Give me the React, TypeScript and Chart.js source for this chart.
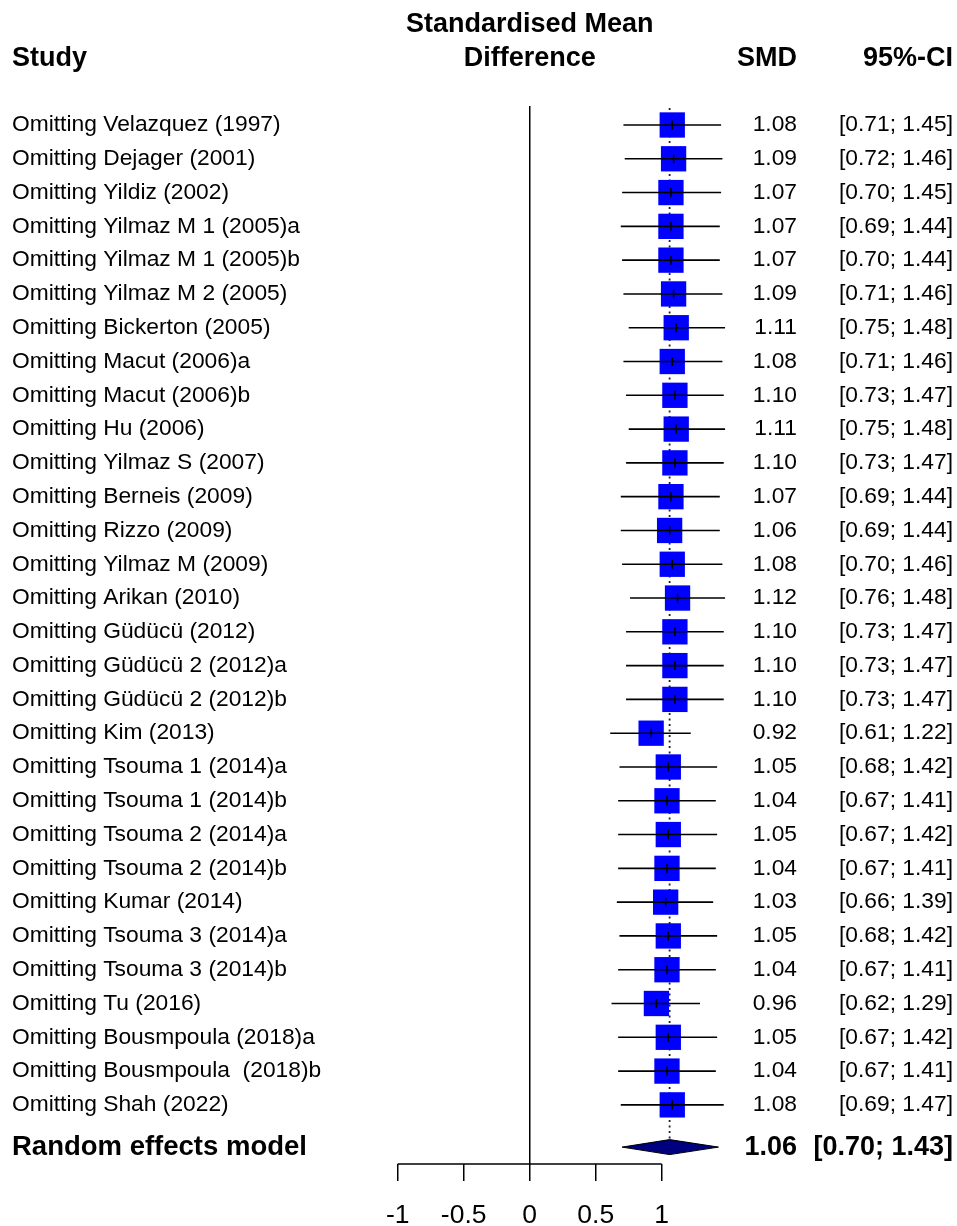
import React, { useEffect, useRef } from "react";
import { Chart, registerables } from "chart.js";

Chart.register(...registerables);

// ---------- data ----------
const STUDIES = [
  "Velazquez (1997)",
  "Dejager (2001)",
  "Yildiz (2002)",
  "Yilmaz M 1 (2005)a",
  "Yilmaz M 1 (2005)b",
  "Yilmaz M 2 (2005)",
  "Bickerton (2005)",
  "Macut (2006)a",
  "Macut (2006)b",
  "Hu (2006)",
  "Yilmaz S (2007)",
  "Berneis (2009)",
  "Rizzo (2009)",
  "Yilmaz M (2009)",
  "Arikan (2010)",
  "Güdücü (2012)",
  "Güdücü 2 (2012)a",
  "Güdücü 2 (2012)b",
  "Kim (2013)",
  "Tsouma 1 (2014)a",
  "Tsouma 1 (2014)b",
  "Tsouma 2 (2014)a",
  "Tsouma 2 (2014)b",
  "Kumar (2014)",
  "Tsouma 3 (2014)a",
  "Tsouma 3 (2014)b",
  "Tu (2016)",
  "Bousmpoula (2018)a",
  "Bousmpoula  (2018)b",
  "Shah (2022)",
];
const SMD = [
  1.08, 1.09, 1.07, 1.07, 1.07, 1.09, 1.11, 1.08, 1.10, 1.11, 1.10, 1.07, 1.06, 1.08, 1.12,
  1.10, 1.10, 1.10, 0.92, 1.05, 1.04, 1.05, 1.04, 1.03, 1.05, 1.04, 0.96, 1.05, 1.04, 1.08,
];
const CI_LOWER = [
  0.71, 0.72, 0.70, 0.69, 0.70, 0.71, 0.75, 0.71, 0.73, 0.75, 0.73, 0.69, 0.69, 0.70, 0.76,
  0.73, 0.73, 0.73, 0.61, 0.68, 0.67, 0.67, 0.67, 0.66, 0.68, 0.67, 0.62, 0.67, 0.67, 0.69,
];
const CI_UPPER = [
  1.45, 1.46, 1.45, 1.44, 1.44, 1.46, 1.48, 1.46, 1.47, 1.48, 1.47, 1.44, 1.44, 1.46, 1.48,
  1.47, 1.47, 1.47, 1.22, 1.42, 1.41, 1.42, 1.41, 1.39, 1.42, 1.41, 1.29, 1.42, 1.41, 1.47,
];
const RE_LABEL = "Random effects model";
const RE_SMD = 1.06;
const RE_LOWER = 0.7;
const RE_UPPER = 1.43;
const X_TICKS = [-1, -0.5, 0, 0.5, 1];
const STUDY_PREFIX = "Omitting ";
const HEAD_STUDY = "Study";
const HEAD_EFFECT = ["Standardised Mean", "Difference"];
const HEAD_SMD = "SMD";
const HEAD_CI = "95%-CI";

// ---------- layout / style ----------
const W = 957;
const H = 1226;
const PAD_LEFT = 397.7;
const PAD_RIGHT = 40;
const PX_PER_UNIT = 132;
const X_MIN = X_TICKS[0];
const X_MAX = X_MIN + (W - PAD_LEFT - PAD_RIGHT) / PX_PER_UNIT;
const PAD_TOP = 106;
const AXIS_H = 62;
const Y_MIN = -0.562;
const Y_MAX = 30.75;
const RE_ROW = 30.25;
const DIAMOND_HALF = 0.222;
const FONT = '"Liberation Sans", Arial, Helvetica, sans-serif';
const FS = 22.8;
const FS_BOLD = 27;
const FS_RE_LABEL = 27.5;
const COL_STUDY_X = 12;
const COL_SMD_RIGHT = 797;
const COL_CI_RIGHT = 953;
const HEAD_Y1 = 25;
const HEAD_Y2 = 59;

const fmt = (v: number) => v.toFixed(2);

const textPlugin = {
  id: "forestText",
  afterDraw(chart: any) {
    const ctx = chart.ctx as CanvasRenderingContext2D;
    const ys = chart.scales.y;
    const xs = chart.scales.x;
    ctx.save();
    ctx.fillStyle = "#000";
    ctx.textBaseline = "middle";

    // headers
    ctx.font = `bold ${FS_BOLD}px ${FONT}`;
    ctx.textAlign = "left";
    ctx.fillText(HEAD_STUDY, COL_STUDY_X, HEAD_Y2);
    ctx.textAlign = "center";
    const cx = xs.getPixelForValue(0);
    ctx.fillText(HEAD_EFFECT[0], cx, HEAD_Y1);
    ctx.fillText(HEAD_EFFECT[1], cx, HEAD_Y2);
    ctx.textAlign = "right";
    ctx.fillText(HEAD_SMD, COL_SMD_RIGHT, HEAD_Y2);
    ctx.fillText(HEAD_CI, COL_CI_RIGHT, HEAD_Y2);

    // study rows
    ctx.font = `${FS}px ${FONT}`;
    STUDIES.forEach((s, i) => {
      const y = ys.getPixelForValue(i);
      ctx.textAlign = "left";
      ctx.fillText(STUDY_PREFIX + s, COL_STUDY_X, y);
      ctx.textAlign = "right";
      ctx.fillText(fmt(SMD[i]), COL_SMD_RIGHT, y);
      ctx.fillText(`[${fmt(CI_LOWER[i])}; ${fmt(CI_UPPER[i])}]`, COL_CI_RIGHT, y);
    });

    // pooled row
    const yr = ys.getPixelForValue(RE_ROW);
    ctx.font = `bold ${FS_RE_LABEL}px ${FONT}`;
    ctx.textAlign = "left";
    ctx.fillText(RE_LABEL, COL_STUDY_X, yr);
    ctx.font = `bold ${FS_BOLD}px ${FONT}`;
    ctx.textAlign = "right";
    ctx.fillText(fmt(RE_SMD), COL_SMD_RIGHT, yr);
    ctx.fillText(`[${fmt(RE_LOWER)}; ${fmt(RE_UPPER)}]`, COL_CI_RIGHT, yr);
    ctx.restore();
  },
};

export default function App() {
  const ref = useRef<HTMLCanvasElement | null>(null);

  useEffect(() => {
    document.body.style.margin = "0";
    if (!ref.current) return;

    const squares = SMD.map((v, i) => ({ x: v, y: i }));
    const ciLines: { x: number; y: number }[] = [];
    CI_LOWER.forEach((lo, i) => {
      ciLines.push({ x: lo, y: i }, { x: CI_UPPER[i], y: i }, { x: NaN, y: NaN });
    });
    const diamond = [
      { x: RE_LOWER, y: RE_ROW },
      { x: RE_SMD, y: RE_ROW - DIAMOND_HALF },
      { x: RE_UPPER, y: RE_ROW },
      { x: RE_SMD, y: RE_ROW + DIAMOND_HALF },
      { x: RE_LOWER, y: RE_ROW },
    ];
    const dotted = [
      { x: RE_SMD, y: -0.5 },
      { x: RE_SMD, y: RE_ROW - DIAMOND_HALF },
    ];
    const axisLine = [
      { x: X_TICKS[0], y: Y_MAX },
      { x: X_TICKS[X_TICKS.length - 1], y: Y_MAX },
    ];

    const chart = new Chart(ref.current, {
      type: "scatter",
      data: {
        datasets: [
          {
            data: squares,
            pointStyle: "line",
            rotation: 90,
            pointRadius: 4.5,
            borderColor: "#000",
            borderWidth: 1.5,
            backgroundColor: "#000",
            clip: false,
            order: 0,
          } as any,
          {
            data: ciLines,
            showLine: true,
            pointRadius: 0,
            borderColor: "#000",
            borderWidth: 1.6,
            clip: false,
            order: 1,
          },
          {
            data: squares,
            pointStyle: "rect",
            pointRadius: 17.9,
            backgroundColor: "#0000FF",
            borderWidth: 0,
            clip: false,
            order: 2,
          },
          {
            data: dotted,
            showLine: true,
            pointRadius: 0,
            borderColor: "#222",
            borderWidth: 1.8,
            borderDash: [2, 3.5],
            clip: false,
            order: 3,
          },
          {
            data: diamond,
            showLine: true,
            pointRadius: 0,
            borderColor: "#000",
            borderWidth: 1,
            backgroundColor: "#00007F",
            fill: "shape",
            tension: 0,
            clip: false,
            order: 4,
          } as any,
          {
            data: axisLine,
            showLine: true,
            pointRadius: 0,
            borderColor: "#000",
            borderWidth: 1.5,
            clip: false,
            order: 5,
          },
        ],
      },
      options: {
        responsive: false,
        animation: false,
        devicePixelRatio: 1,
        events: [],
        layout: {
          padding: { left: PAD_LEFT, right: PAD_RIGHT, top: PAD_TOP, bottom: 0 },
        },
        plugins: {
          legend: { display: false },
          tooltip: { enabled: false },
          title: { display: false },
        },
        scales: {
          x: {
            type: "linear",
            min: X_MIN,
            max: X_MAX,
            afterBuildTicks: (scale: any) => {
              scale.ticks = X_TICKS.map((v) => ({ value: v }));
            },
            afterFit: (scale: any) => {
              scale.height = AXIS_H;
              scale.paddingLeft = 0;
              scale.paddingRight = 0;
            },
            border: { display: false },
            grid: {
              color: (c: any) => (c.tick && c.tick.value === 0 ? "#000" : "rgba(0,0,0,0)"),
              lineWidth: 1.5,
              drawTicks: true,
              tickLength: 17,
              tickColor: "#000",
              tickWidth: 1.5,
            },
            ticks: {
              color: "#000",
              font: { family: FONT, size: 26.5 },
              padding: 19,
              maxRotation: 0,
              autoSkip: false,
              callback: (v: any) => String(v),
            },
          },
          y: {
            type: "linear",
            display: false,
            reverse: true,
            min: Y_MIN,
            max: Y_MAX,
          },
        },
      },
      plugins: [textPlugin],
    });

    return () => chart.destroy();
  }, []);

  return (
    <div style={{ width: W, height: H, overflow: "hidden" }}>
      <canvas
        ref={ref}
        width={W}
        height={H}
        style={{ display: "block", width: W, height: H }}
      />
    </div>
  );
}
